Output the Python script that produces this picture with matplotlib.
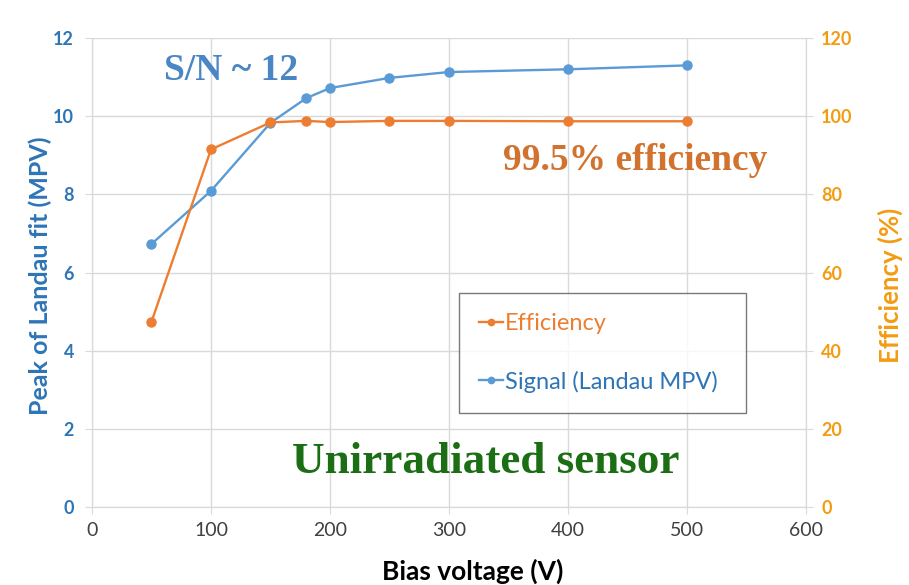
import matplotlib
matplotlib.use("Agg")
import matplotlib.pyplot as plt

# data
bias_v     = [50, 100, 150, 180, 200, 250, 300, 400, 500]
signal_mpv = [6.73, 8.09, 9.83, 10.46, 10.72, 10.98, 11.13, 11.2, 11.3]
efficiency = [47.4, 91.5, 98.4, 98.8, 98.5, 98.8, 98.8, 98.7, 98.7]

x_ticks  = [0, 100, 200, 300, 400, 500, 600]
yl_ticks = [0, 2, 4, 6, 8, 10, 12]
yr_ticks = [0, 20, 40, 60, 80, 100, 120]

blue      = '#5B9BD5'
blue_txt  = '#2E75B6'
orange    = '#ED7D31'
orange_tk = '#F39C12'
grid_c    = '#D9D9D9'

plt.rcParams['font.family'] = ['Lato', 'DejaVu Sans']

fig = plt.figure(figsize=(9.09, 5.85), dpi=100)
ax1 = fig.add_axes([0.1012, 0.1333, 0.7855, 0.8017])

ax1.plot(bias_v, signal_mpv, '-o', color=blue, lw=1.7, ms=6.5,
         label='Signal (Landau MPV)', zorder=3)
ax1.set_xlim(0, 600)
ax1.set_ylim(0, 12)
ax1.set_xticks(x_ticks)
ax1.set_yticks(yl_ticks)
ax1.grid(True, color=grid_c, lw=1)
ax1.set_axisbelow(True)
ax1.tick_params(axis='x', colors=grid_c, labelcolor='#404040', labelsize=14, length=5, pad=6)
ax1.tick_params(axis='y', colors=grid_c, labelcolor=blue_txt, labelsize=13, length=5, pad=8)
for lbl in ax1.get_yticklabels():
    lbl.set_fontweight('bold')
ax1.set_xlabel('Bias voltage (V)', fontsize=19, fontweight='bold', color='black', va='center')
ax1.xaxis.set_label_coords(0.533, -0.1365)
ax1.set_ylabel('Peak of Landau fit (MPV)', fontsize=18, fontweight='bold', color=blue_txt, va='center')
ax1.yaxis.set_label_coords(-0.0728, 0.4925)

ax2 = ax1.twinx()
ax2.plot(bias_v, efficiency, '-o', color=orange, lw=1.7, ms=6.5,
         label='Efficiency', zorder=3)
ax2.set_ylim(0, 120)
ax2.set_yticks(yr_ticks)
ax2.tick_params(axis='y', colors=grid_c, labelcolor=orange_tk, labelsize=13, length=5, pad=6)
for lbl in ax2.get_yticklabels():
    lbl.set_fontweight('bold')
ax2.set_ylabel('Efficiency (%)', fontsize=18.5, fontweight='bold', color=orange_tk, va='center')
ax2.yaxis.set_label_coords(1.1176, 0.4733)

for ax in (ax1, ax2):
    for side in ('left', 'right', 'bottom'):
        ax.spines[side].set_color(grid_c)
    ax.spines['top'].set_visible(False)

# legend
h1, l1 = ax1.get_legend_handles_labels()
h2, l2 = ax2.get_legend_handles_labels()
leg = ax2.legend(h2 + h1, l2 + l1, loc='upper left',
                 bbox_to_anchor=(0.514, 0.2026, 0.402, 0.254),
                 mode='expand', fontsize=17, frameon=True, fancybox=False,
                 handlelength=1.0, handletextpad=0.1, labelspacing=1.55,
                 borderpad=0.85, borderaxespad=0, labelcolor=[orange, blue_txt],
                 markerscale=0.7)
leg.get_frame().set_edgecolor('#595959')
leg.get_frame().set_linewidth(1.0)

# annotations
fig.text(231 / 909, 1 - 70 / 585, 'S/N ~ 12', family='Liberation Serif',
         fontweight='bold', fontsize=27, color='#4A86C5', ha='center', va='center')
fig.text(635 / 909, 1 - 160 / 585, '99.5% efficiency', family='Liberation Serif',
         fontweight='bold', fontsize=27, color='#D2722F', ha='center', va='center')
fig.text(486 / 909, 1 - 462 / 585, 'Unirradiated sensor', family='Liberation Serif',
         fontweight='bold', fontsize=32.5, color='#1B6E14', ha='center', va='center')

fig.savefig('out.png', dpi=100)
